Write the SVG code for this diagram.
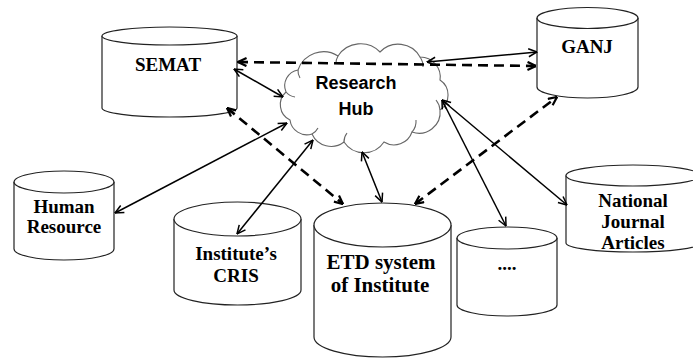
<svg xmlns="http://www.w3.org/2000/svg" width="693" height="358" viewBox="0 0 693 358">
<style>
.cyl{fill:#fff;stroke:#222;stroke-width:1.2}
.cloud{fill:#fff;stroke:#666;stroke-width:1.1}
.curl{fill:none;stroke:#666;stroke-width:1.1}
.t{font-family:"Liberation Serif","Times New Roman",serif;font-weight:bold;font-size:19px;fill:#000;text-anchor:middle}
.big{font-size:21px}
.hub{font-family:"Liberation Sans",Arial,sans-serif;font-weight:bold;font-size:18px;fill:#000;text-anchor:middle}
.s{fill:none;stroke:#000;stroke-width:1.5;marker-start:url(#ah);marker-end:url(#ah)}
.d{fill:none;stroke:#000;stroke-width:2.6;stroke-dasharray:10 6;marker-start:url(#ahd);marker-end:url(#ahd)}
</style>
<defs>
<marker id="ah" viewBox="0 0 10 10" refX="9.5" refY="5" markerWidth="10" markerHeight="10" markerUnits="userSpaceOnUse" orient="auto-start-reverse">
<path d="M1,1 L9.5,5 L1,9" fill="none" stroke="#000" stroke-width="1.5"/>
</marker>
<marker id="ahd" viewBox="0 0 10 10" refX="9.5" refY="5" markerWidth="10" markerHeight="10" markerUnits="userSpaceOnUse" orient="auto-start-reverse">
<path d="M1,1 L9.5,5 L1,9" fill="none" stroke="#000" stroke-width="2.2"/>
</marker>
</defs>

<g id="semat">
<path class="cyl" d="M102,36 L102,108 A67.5,9 0 0 0 237,108 L237,36"/>
<ellipse class="cyl" cx="169.5" cy="36" rx="67.5" ry="9"/>
<text class="t" x="168" y="71">SEMAT</text>
</g>

<g id="ganj">
<path class="cyl" d="M537,18 L537,87 A50.5,11 0 0 0 638,87 L638,18"/>
<ellipse class="cyl" cx="587.5" cy="18" rx="50.5" ry="10.5"/>
<text class="t" x="587" y="53">GANJ</text>
</g>

<g id="human-resource">
<path class="cyl" d="M14,182 L14,249 A50,11 0 0 0 114,249 L114,182"/>
<ellipse class="cyl" cx="64" cy="182" rx="50" ry="11"/>
<text class="t" x="64" y="213">Human</text>
<text class="t" x="64" y="233">Resource</text>
</g>

<g id="cris">
<path class="cyl" d="M174,219 L174,290 A63.5,15 0 0 0 301,290 L301,219"/>
<ellipse class="cyl" cx="237.5" cy="219" rx="63.5" ry="17"/>
<text class="t" x="236" y="260">Institute’s</text>
<text class="t" x="236" y="282">CRIS</text>
</g>

<g id="etd">
<path class="cyl" d="M314,225 L314,337 A68.5,20 0 0 0 451,337 L451,225"/>
<ellipse class="cyl" cx="382.5" cy="225" rx="68.5" ry="22"/>
<text class="t big" x="381" y="269">ETD system</text>
<text class="t big" x="380" y="292">of Institute</text>
</g>

<g id="dots">
<path class="cyl" d="M457,238 L457,305 A50,11 0 0 0 557,305 L557,238"/>
<ellipse class="cyl" cx="507" cy="238" rx="50" ry="11"/>
<text class="t" x="507" y="270">....</text>
</g>

<g id="national">
<path class="cyl" d="M566,175.5 L566,243 A67,9 0 0 0 700,243 L700,175.5"/>
<ellipse class="cyl" cx="633" cy="175.5" rx="67" ry="10.5"/>
<text class="t" x="633" y="207">National</text>
<text class="t" x="633" y="228">Journal</text>
<text class="t" x="633" y="249">Articles</text>
</g>

<g id="research-hub">
<path class="cloud" d="M298,70 A27,27 0 0 1 338,56 A27,27 0 0 1 380,52 A25,25 0 0 1 420,57 A20,20 0 0 1 440,80 A18,18 0 0 1 440,110 A21,21 0 0 1 412,132 A19,19 0 0 1 384,142 A24,24 0 0 1 344,142 A21,21 0 0 1 312,134 A17,17 0 0 1 290,120 A17,17 0 0 1 286,92 A16,16 0 0 1 298,70 Z"/>
<path class="curl" d="M298,70 A14,14 0 0 0 300,78"/>
<path class="curl" d="M338,56 A14,14 0 0 0 336,64"/>
<path class="curl" d="M420,57 A16,16 0 0 1 423,67"/>
<path class="curl" d="M440,110 A18,18 0 0 0 436,100"/>
<path class="curl" d="M412,132 A16,16 0 0 0 416,120"/>
<path class="curl" d="M344,142 A14,14 0 0 1 347,133"/>
<path class="curl" d="M312,134 A14,14 0 0 0 318,128"/>
<path class="curl" d="M286,92 A14,14 0 0 0 295,97"/>
<text class="hub" x="356" y="89">Research</text>
<text class="hub" x="356" y="115">Hub</text>
</g>

<g id="connectors">
<line class="d" x1="238" y1="62" x2="536" y2="66"/>
<line class="s" x1="234" y1="69" x2="283" y2="97"/>
<line class="d" x1="227" y1="108" x2="343" y2="204"/>
<line class="s" x1="115" y1="213" x2="287" y2="123"/>
<line class="s" x1="237" y1="234" x2="313" y2="140"/>
<line class="s" x1="382" y1="202" x2="362" y2="152"/>
<line class="d" x1="415" y1="204" x2="557" y2="97"/>
<line class="s" x1="442" y1="100" x2="506" y2="226"/>
<line class="s" x1="442" y1="100" x2="567" y2="205"/>
<line class="s" x1="427" y1="62" x2="537" y2="52"/>
</g>
</svg>
